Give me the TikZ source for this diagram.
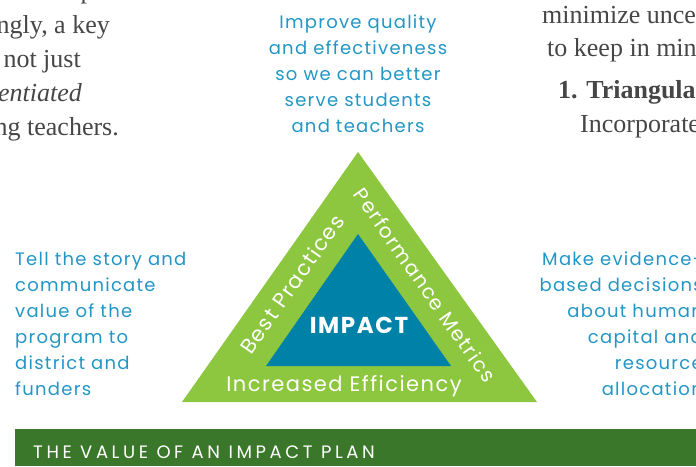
\documentclass[tikz,border=0pt]{standalone}
\usepackage{fontspec}
\setmainfont{Liberation Serif}
\newfontfamily\plansans[LetterSpace=7]{Poppins}
\usetikzlibrary{positioning}

\definecolor{leafgreen}{RGB}{141,198,63}
\definecolor{impactblue}{RGB}{0,129,168}
\definecolor{notetext}{RGB}{34,150,196}
\definecolor{bargreen}{RGB}{59,119,42}
\definecolor{bodygray}{RGB}{70,70,70}

\begin{document}
\begin{tikzpicture}[x=1pt, y=-1pt,
    note/.style={inner sep=0pt, text=notetext, font=\plansans\fontsize{18}{26}\selectfont},
    body/.style={inner sep=0pt, text=bodygray, font=\fontsize{26}{34}\selectfont},
    edgetext/.style={inner sep=0pt, text=white, font=\plansans\fontsize{21}{21}\selectfont},
]
\useasboundingbox (0,0) rectangle (696,466);
\clip (0,0) rectangle (696,466);

% the two triangles
\coordinate (top) at (358,152);
\coordinate (left) at (182,402);
\coordinate (right) at (537,402);
\coordinate (itop) at (358,234);
\coordinate (ileft) at (266,366);
\coordinate (iright) at (451,366);
\fill[leafgreen] (top) -- (left) -- (right) -- cycle;
\fill[impactblue] (itop) -- (ileft) -- (iright) -- cycle;

\node[edgetext, font=\plansans\bfseries\fontsize{23}{23}\selectfont] (impact) at (359,325) {IMPACT};
\node[edgetext] (efficiency) at (344,386) {Increased Efficiency};
\node[edgetext, rotate=55] (practices) at (292,284) {Best Practices};
\node[edgetext, font=\plansans\fontsize{20}{20}\selectfont, rotate=-55] (metrics) at (425,285) {Performance Metrics};

% notes around the triangle
\node[note, align=center] (quality) at (358,74)
  {Improve quality\\and effectiveness\\so we can better\\serve students\\and teachers};
\node[note, align=left, anchor=west] (story) at (15,324)
  {Tell the story and\\communicate\\value of the\\program to\\district and\\funders};
\node[note, align=right, anchor=east] (evidence) at (703,324)
  {Make evidence-\\based decisions\\about human\\capital and\\resource\\allocation};

% running text of the page
\node[body, anchor=base east] (l0) at (140,-2) {to improve};
\node[body, anchor=base east] (l1) at (110,33) {Accordingly, a key};
\node[body, anchor=base east] (l2) at (81,67) {not just};
\node[body, anchor=base east] (l3) at (82,101) {\itshape differentiated};
\node[body, anchor=base east] (l4) at (119,135) {supporting teachers.};
\node[body, anchor=base west] (r1) at (542,23) {minimize uncertainty};
\node[body, anchor=base west] (r2) at (547,56) {to keep in mind};
\node[body, anchor=base west] (r3) at (558,98) {\bfseries 1. Triangulate};
\node[body, anchor=base west] (r4) at (580,132) {Incorporate};

% caption bar
\fill[bargreen] (15,429) rectangle (696,466);
\node[inner sep=0pt, anchor=west, text=white, font=\plansans\addfontfeature{LetterSpace=20}\fontsize{18}{18}\selectfont]
  (caption) at (33,452) {THE VALUE OF AN IMPACT PLAN};
\end{tikzpicture}
\end{document}
